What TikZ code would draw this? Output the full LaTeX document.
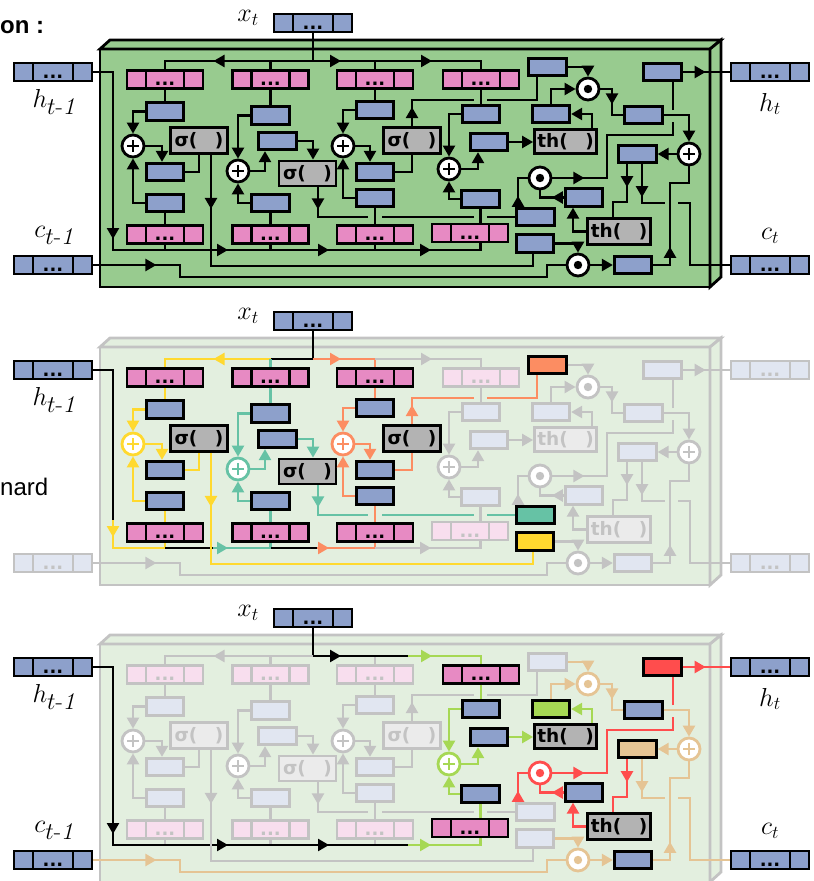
\RequirePackage{fix-cm}
\documentclass[tikz,border=0pt]{standalone}
\usepackage{fontspec}
\newfontfamily\gf{DejaVu Sans}
\newfontfamily\lsf{Liberation Sans}
\usetikzlibrary{arrows.meta,decorations.markings}
\definecolor{bgg}{RGB}{152,203,143}
\definecolor{bgl}{RGB}{227,239,223}
\definecolor{cbl}{RGB}{141,160,203}
\definecolor{fbl}{RGB}{225,230,241}
\definecolor{cpk}{RGB}{231,138,195}
\definecolor{fpk}{RGB}{248,222,238}
\definecolor{cgy}{RGB}{179,179,179}
\definecolor{fgy}{RGB}{235,235,235}
\definecolor{lgr}{RGB}{195,195,195}
\definecolor{cyl}{RGB}{255,217,47}
\definecolor{ctl}{RGB}{102,194,165}
\definecolor{cor}{RGB}{252,141,98}
\definecolor{cgr}{RGB}{166,216,84}
\definecolor{ctn}{RGB}{229,196,148}
\definecolor{crd}{RGB}{255,77,77}
\def\symcol{black}
\def\panelno{1}
\newcommand\mydots{\raisebox{-6pt}[0pt][0pt]{\gf\bfseries\fontsize{18}{18}\selectfont...}}
\newcommand\sig{σ(\hspace{0.95em})}
\newcommand\tnh{th(\hspace{0.95em})}
\newcommand\subtm{\mbox{\fontsize{24}{24}\selectfont$t$\textrm{-}\textit{1}}}
\tikzset{
  pk/.code n args={3}{\ifcase\panelno\relax\or\pgfkeysalso{#1}\or\pgfkeysalso{#2}\or\pgfkeysalso{#3}\fi},
  sym/.code={\def\symcol{#1}},
  bx/.style={rectangle, line width=2.8pt, inner sep=0pt},
  vecb/.style={bx, minimum width=78pt, minimum height=18pt, fill=cbl, draw=black, sym=black, text=black,
    path picture={\draw[draw=\symcol, line width=2.6pt] (path picture bounding box.center) +(-20,-12) -- +(-20,12) +(20,-12) -- +(20,12);}},
  vecf/.style={vecb, fill=fbl, draw=lgr, sym=lgr, text=lgr},
  pnk/.style={bx, minimum width=76pt, minimum height=18pt, fill=cpk, draw=black, sym=black, text=black,
    path picture={\draw[draw=\symcol, line width=2.6pt] (path picture bounding box.center) +(-19,-12) -- +(-19,12) +(19,-12) -- +(19,12);}},
  pnkf/.style={pnk, fill=fpk, draw=lgr, sym=lgr, text=lgr},
  sb/.style={bx, minimum width=37.5pt, minimum height=17.5pt, fill=cbl, draw=black},
  sbf/.style={sb, fill=fbl, draw=lgr},
  sbc/.style={sb, fill=#1},
  gt/.style={bx, fill=cgy, draw=black, text=black, font=\gf\bfseries\fontsize{18.5}{18.5}\selectfont},
  gtf/.style={gt, fill=fgy, draw=lgr, text=lgr},
  cc/.style={circle, minimum size=22pt, inner sep=0pt, line width=2.8pt, fill=white, draw=black, sym=black},
  ccol/.style={cc, draw=#1, sym=#1},
  pl/.style={path picture={\draw[draw=\symcol, line width=2.6pt] (path picture bounding box.center) +(-6,0) -- +(6,0) +(0,-6) -- +(0,6);}},
  od/.style={path picture={\fill[fill=\symcol] (path picture bounding box.center) circle (4.2pt);}},
  lab/.style={inner sep=0pt, font=\fontsize{26}{26}\selectfont},
  frm/.style={line width=2.8pt, line join=miter, pk={fill=bgg,draw=black}{fill=bgl,draw=lgr}{fill=bgl,draw=lgr}},
  cn/.style={line width=2.4pt, line join=miter},
  ar/.style={-{Triangle[length=11pt,width=12pt]}},
  ma/.style={postaction={decorate,decoration={markings,mark=at position #1 with {\arrow{Triangle[length=11pt,width=12pt]}}}}},
  lK/.style={draw=black}, lF/.style={draw=lgr}, lY/.style={draw=cyl}, lT/.style={draw=ctl},
  lO/.style={draw=cor}, lG/.style={draw=cgr}, lN/.style={draw=ctn}, lR/.style={draw=crd},
  c1/.style={pk={lK}{lY}{lF}}, c2/.style={pk={lK}{lT}{lF}}, c3/.style={pk={lK}{lO}{lF}},
  c4/.style={pk={lK}{lF}{lG}}, ctan/.style={pk={lK}{lF}{lN}}, cred/.style={pk={lK}{lF}{lR}}
}
\newcommand\drawpanel[2]{%
\def\panelno{#1}%
\begin{scope}[shift={(0,#2)}, name prefix=p#1-]
\path[frm] (100,49) rectangle (710,287);
\path[frm] (100,49) -- (110,40) -- (721,40) -- (710,49) -- cycle;
\path[frm] (710,49) -- (721,40) -- (721,277) -- (710,287) -- cycle;
% inputs and outputs
\node[vecb] (xt) at (313,23) {\mydots};
\node[vecb] (hin) at (53,72) {\mydots};
\node[pk={vecb}{vecf}{vecb}] (cin) at (53,265) {\mydots};
\node[pk={vecb}{vecf}{vecb}] (hout) at (770,72) {\mydots};
\node[pk={vecb}{vecf}{vecb}] (cout) at (770,265) {\mydots};
\node[lab] (lxt) at (248,18) {$x_t$};
\node[lab] (lhin) at (54,102) {$h_{\subtm}$};
\ifnum\panelno=2\relax\else
\node[lab] (lcin) at (54,235) {$c_{\subtm}$};
\node[lab] (lhout) at (770,104) {$h_t$};
\node[lab] (lcout) at (770,236) {$c_t$};
\fi
% weight rows
\node[pk={pnk}{pnk}{pnkf}] (P1) at (165,79.5) {\mydots};
\node[pk={pnk}{pnk}{pnkf}] (P2) at (270.5,79.5) {\mydots};
\node[pk={pnk}{pnk}{pnkf}] (P3) at (375,79.5) {\mydots};
\node[pk={pnk}{pnkf}{pnk}] (P4) at (481,79.5) {\mydots};
\node[pk={pnk}{pnk}{pnkf}] (Q1) at (165,234.5) {\mydots};
\node[pk={pnk}{pnk}{pnkf}] (Q2) at (270.5,234.5) {\mydots};
\node[pk={pnk}{pnk}{pnkf}] (Q3) at (375,234.5) {\mydots};
\node[pk={pnk}{pnkf}{pnk}] (Q4) at (470,233) {\mydots};
% columns
\node[pk={sb}{sb}{sbf}] (B1a) at (165,111.5) {};
\node[pk={sb}{sb}{sbf}] (B1b) at (165,172) {};
\node[pk={sb}{sb}{sbf}] (B1c) at (165,203) {};
\node[pk={sb}{sb}{sbf}] (B2a) at (270.5,115.5) {};
\node[pk={sb}{sb}{sbf}] (B2b) at (277.5,141) {};
\node[pk={sb}{sb}{sbf}] (B2c) at (270.5,203) {};
\node[pk={sb}{sb}{sbf}] (B3a) at (375,110) {};
\node[pk={sb}{sb}{sbf}] (B3b) at (375,172) {};
\node[pk={sb}{sb}{sbf}] (B3c) at (375,198) {};
\node[pk={sb}{sbf}{sb}] (B4a) at (481,114) {};
\node[pk={sb}{sbf}{sb}] (B4b) at (489,142) {};
\node[pk={sb}{sbf}{sb}] (B4c) at (480.5,199) {};
\node[pk={cc,pl}{ccol=cyl,pl}{ccol=lgr,pl}] (S1) at (133,146) {};
\node[pk={cc,pl}{ccol=ctl,pl}{ccol=lgr,pl}] (S2) at (238,171) {};
\node[pk={cc,pl}{ccol=cor,pl}{ccol=lgr,pl}] (S3) at (343,146) {};
\node[pk={cc,pl}{ccol=lgr,pl}{ccol=cgr,pl}] (S4) at (449,169) {};
\node[pk={gt}{gt}{gtf}, minimum width=57pt, minimum height=26pt] (G1) at (199,140.5) {\sig};
\node[pk={gt}{gt}{gtf}, minimum width=57pt, minimum height=25pt] (G2) at (307.5,173.5) {\sig};
\node[pk={gt}{gt}{gtf}, minimum width=57pt, minimum height=26pt] (G3) at (412,140.5) {\sig};
\node[pk={gt}{gtf}{gt}, minimum width=62pt, minimum height=24.5pt] (T1) at (565.5,141.5) {\tnh};
\node[pk={gt}{gtf}{gt}, minimum width=63pt, minimum height=26pt] (T2) at (619,231.5) {\tnh};
% right part
\node[pk={sb}{sbc=cor}{sbf}] (R1) at (547.5,67) {};
\node[pk={sb}{sbf}{sbc=cgr}] (R2) at (551,114) {};
\node[pk={sb}{sbf}{sb}] (R3) at (643.5,115) {};
\node[pk={sb}{sbf}{sbc=crd}] (H) at (662.5,72) {};
\node[pk={sb}{sbf}{sbc=ctn}] (C) at (637.5,154) {};
\node[pk={sb}{sbf}{sb}] (R4) at (584,197.5) {};
\node[pk={sb}{sbc=ctl}{sbf}] (R5) at (535.5,217) {};
\node[pk={sb}{sbc=cyl}{sbf}] (R6) at (535,243.5) {};
\node[pk={sb}{sbf}{sb}] (R7) at (633,265) {};
\node[pk={cc,od}{ccol=lgr,od}{ccol=ctn,od}] (M1) at (588,89) {};
\node[pk={cc,od}{ccol=lgr,od}{ccol=crd,od}] (M2) at (540,178) {};
\node[pk={cc,od}{ccol=lgr,od}{ccol=ctn,od}] (M3) at (578,265) {};
\node[pk={cc,pl}{ccol=lgr,pl}{ccol=ctn,pl}] (A) at (689,154) {};
% x_t distribution
\draw[cn, lK] (xt.south) -- (313,61);
\draw[cn, pk={lK}{lK}{lF}] (313,61) -- (270.5,61);
\draw[cn, c1, ma=57pt] (270.5,61) -- (165,61) -- (P1.north);
\draw[cn, c2] (270.5,61) -- (P2.north);
\draw[cn, c3] (375,61) -- (P3.north);
\draw[cn, pk={lK}{lF}{lK}] (375,61) -- (408,61);
\draw[cn, c4, ma=24pt] (408,61) -- (481,61) -- (P4.north);
\draw[cn, pk={lK}{lO}{lK}, ma=28pt] (313,61) -- (375,61);
% h_{t-1} distribution
\draw[cn, lK] (hin.east) -- (113,72) -- (113,222);
\draw[cn, c1] (165,250) -- (Q1.south);
\draw[cn, c2] (270.5,250) -- (Q2.south);
\draw[cn, c3] (375,250) -- (Q3.south);
\draw[cn, pk={lK}{lY}{lK}, ma=17pt] (113,222) -- (113,250) -- (165,250);
\draw[cn, lK] (165,250) -- (213,250);
\draw[cn, pk={lK}{lT}{lK}, ma=15pt] (213,250) -- (270.5,250);
\draw[cn, lK] (270.5,250) -- (317,250);
\draw[cn, pk={lK}{lO}{lK}, ma=12pt] (317,250) -- (375,250);
\draw[cn, pk={lK}{lF}{lK}] (375,250) -- (408,250);
\draw[cn, c4, ma=23pt] (408,250) -- (480.5,250) -- (B4c.south |- Q4.south);
% c_{t-1}
\draw[cn, ctan, ma=63pt] (cin.east) -- (180,265) -- (180,277) -- (547,277) -- (547,265) -- (M3.west);
% column 1
\draw[cn, c1] (P1.south) -- (B1a.north);
\draw[cn, c1, ar] (B1a.west) -| (S1.north);
\draw[cn, c1, ar] (B1c.west) -| (S1.south);
\draw[cn, c1] (Q1.north) -- (B1c.south);
\draw[cn, c1, ar] (S1.east) -| ([xshift=-3pt]B1b.north);
\draw[cn, c1] (B1b.east) -| (G1.south);
\draw[cn, c1, ma=54pt] ([xshift=12pt]G1.south) -- (211,266) -- (533,266) -- ([xshift=-2pt]R6.south);
% column 2
\draw[cn, c2] (P2.south) -- (B2a.north);
\draw[cn, c2, ar] (B2a.west) -| (S2.north);
\draw[cn, c2, ar] (B2c.west) -| (S2.south);
\draw[cn, c2] (Q2.north) -- (B2c.south);
\draw[cn, c2, ar] (S2.east) -| ([xshift=-12.5pt]B2b.south);
\draw[cn, c2, ar] (B2b.east) -| ([xshift=5.5pt]G2.north);
\draw[cn, c2, ma=22pt] ([xshift=10.5pt]G2.south) -- (318,217) -- (368,217);
\draw[cn, c2] (382,217) -- (474,217);
\draw[cn, c2] (487,217) -- (R5.west);
% column 3
\draw[cn, c3] (P3.south) -- (B3a.north);
\draw[cn, c3, ar] (B3a.west) -| (S3.north);
\draw[cn, c3, ar] (B3c.west) -| (S3.south);
\draw[cn, c3] (Q3.north) -- (B3c.south);
\draw[cn, c3, ar] (S3.east) -| ([xshift=-5pt]B3b.north);
\draw[cn, c3] (B3b.east) -| (G3.south);
\draw[cn, c3, ma=19pt] (G3.north) -- (412,100) -- (474,100);
\draw[cn, c3] (487,100) -- (537,100) -- ([xshift=-10.5pt]R1.south);
% column 4
\draw[cn, c4] (P4.south) -- (B4a.north);
\draw[cn, c4, ar] (B4a.west) -| (S4.north);
\draw[cn, c4, ar] (B4c.west) -| (S4.south);
\draw[cn, c4] (B4c.south) -- (B4c.south |- Q4.north);
\draw[cn, c4, ar] (S4.east) -| ([xshift=-11pt]B4b.south);
\draw[cn, c4, ar] (B4b.east) -- (B4b.east -| T1.west);
\draw[cn, c4, ar] ([xshift=26.5pt]T1.north) |- (R2.east);
% cell state and output
\draw[cn, ctan, ar] (R2.north) |- (M1.west);
\draw[cn, ctan, ar] (R1.east) -| (M1.north);
\draw[cn, ctan, ma=27pt] (M1.east) -- (612,89) -- (612,115) -- (R3.west);
\draw[cn, ctan, ar] (R3.east) -| (A.north);
\draw[cn, ctan, ar] (A.west) -- (C.east);
\draw[cn, ctan, ar] (R6.east) -| (M3.north);
\draw[cn, ctan, ar] (M3.east) -- (R7.west);
\draw[cn, ctan, ma=35pt] (R7.east) -- (670,265) -- (670,183) -- (689,183) -- (A.south);
\draw[cn, ctan, ma=33pt] ([xshift=4.5pt]C.south) -- (642,203) -- (665,203);
\draw[cn, ctan] (678,203) -- (690,203) -- (690,265) -- (cout.west);
\draw[cn, cred, ma=23pt] ([xshift=-10.5pt]C.south) -- (627,202) -- (613,202) -- ([xshift=-6pt]T2.north);
\draw[cn, cred, ar] (T2.west) -| ([xshift=-11pt]R4.south);
\draw[cn, cred, ma=12pt] (R4.west) -| (M2.south);
\draw[cn, cred, ma=11pt] ([xshift=-17.5pt]R5.north) |- (M2.west);
\draw[cn, cred, ma=32pt] (M2.east) -- (607,178) -- (607,135) -- (673,135) -- (673,122);
\draw[cn, cred] (673,110) -- ([xshift=10.5pt]H.south);
\draw[cn, cred, ma=23pt] (H.east) -- (hout.west);
\end{scope}}
\begin{document}
\begin{tikzpicture}[x=1pt,y=-1pt]
\useasboundingbox (0,0) rectangle (814,881);
\node[anchor=base west, inner sep=0pt] (ttl) at (0,33) {\lsf\bfseries\fontsize{24}{24}\selectfont on :};
\node[anchor=base west, inner sep=0pt] (hdm) at (0,495) {\lsf\fontsize{24}{24}\selectfont nard};
\drawpanel{1}{0}
\drawpanel{2}{298}
\drawpanel{3}{595}
\end{tikzpicture}
\end{document}
